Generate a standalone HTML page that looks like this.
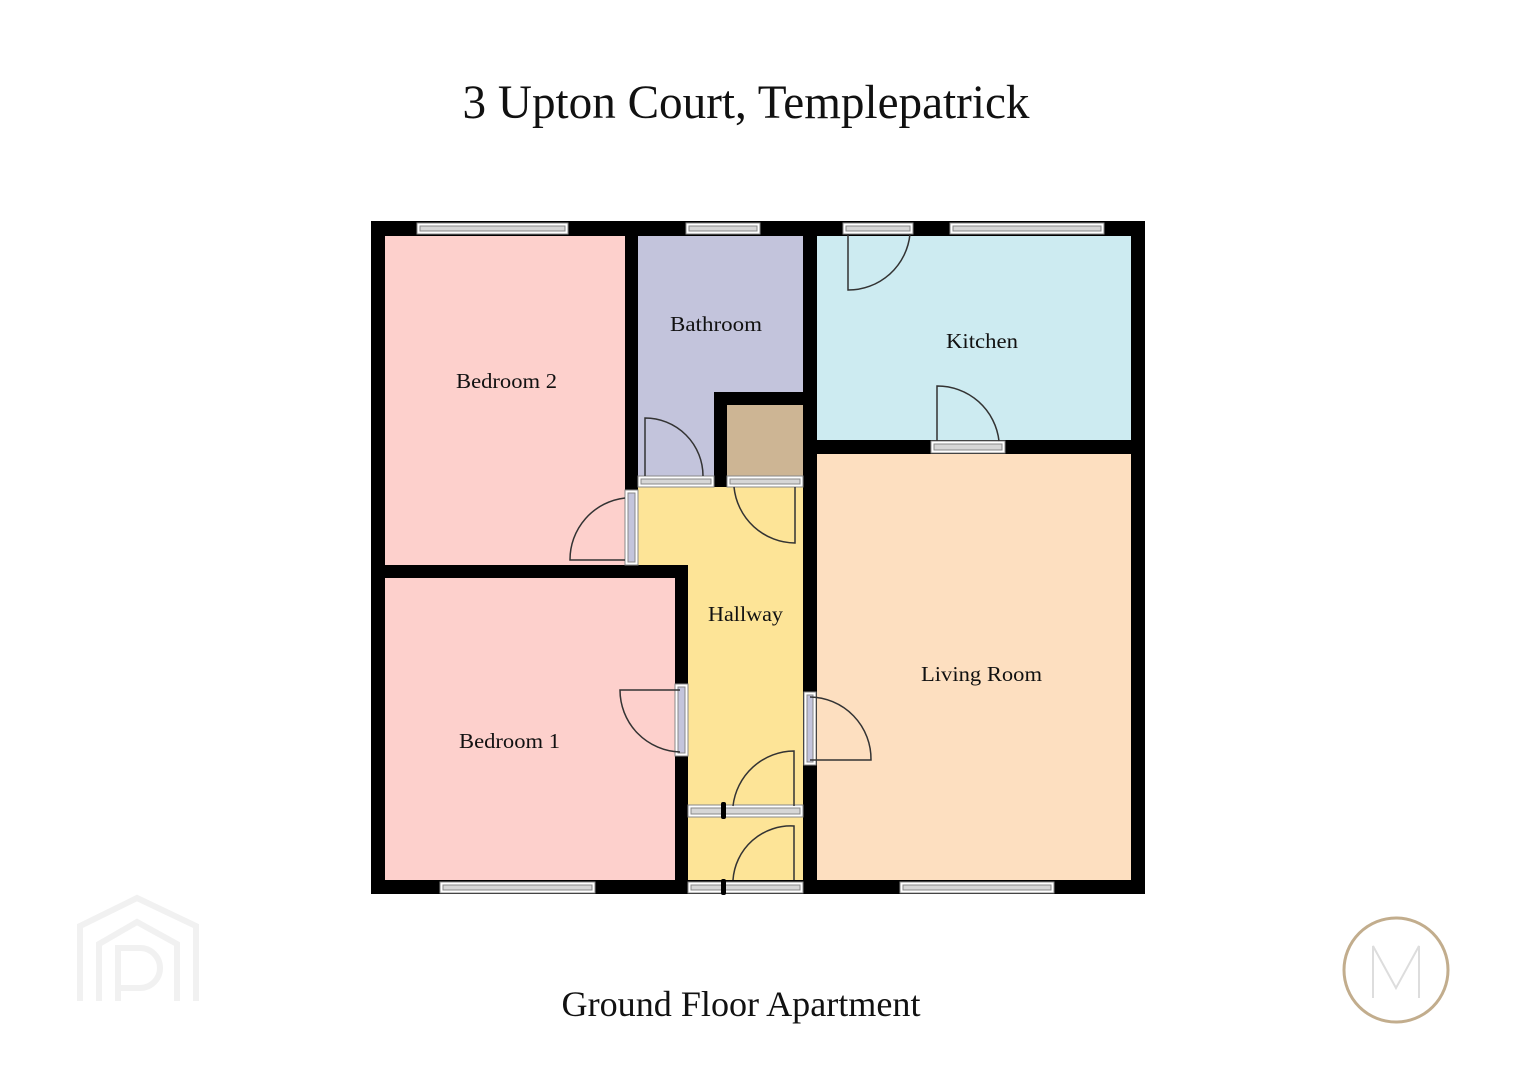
<!DOCTYPE html>
<html><head><meta charset="utf-8"><style>
html,body{margin:0;padding:0;background:#fff;}
svg{display:block}
text{font-family:"Liberation Serif",serif;fill:#111;}
</style></head><body>
<svg width="1526" height="1080" viewBox="0 0 1526 1080" xmlns="http://www.w3.org/2000/svg">
<rect width="1526" height="1080" fill="#fff"/>
<text x="746" y="118" font-size="48" text-anchor="middle" textLength="567" lengthAdjust="spacingAndGlyphs">3 Upton Court, Templepatrick</text>
<text x="741" y="1016" font-size="36" text-anchor="middle" textLength="359" lengthAdjust="spacingAndGlyphs">Ground Floor Apartment</text>

<!-- room fills -->
<rect x="385" y="236" width="240" height="329" fill="#fdd0cc"/>
<rect x="638" y="236" width="165" height="251" fill="#c3c4dc"/>
<rect x="727" y="405" width="76" height="72" fill="#cdb594"/>
<rect x="817" y="236" width="314" height="204" fill="#cdebf1"/>
<rect x="817" y="454" width="314" height="426" fill="#fddfc0"/>
<rect x="638" y="487" width="165" height="393" fill="#fde497"/>
<rect x="385" y="578" width="290" height="302" fill="#fdd0cc"/>

<g fill="#000">
<!-- outer -->
<rect x="371" y="221" width="14" height="673"/>
<rect x="1131" y="221" width="14" height="673"/>
<rect x="371" y="221" width="774" height="15"/>
<rect x="371" y="880" width="774" height="14"/>
<!-- bed2/bath wall -->
<rect x="625" y="221" width="13" height="269"/>
<!-- bath/kitchen, hall/living wall -->
<rect x="803" y="221" width="14" height="673"/>
<!-- cupboard -->
<rect x="714" y="392" width="89" height="13"/>
<rect x="714" y="392" width="13" height="95"/>
<!-- bedroom1 top -->
<rect x="371" y="565" width="317" height="13"/>
<rect x="675" y="565" width="13" height="329"/>
<!-- kitchen bottom -->
<rect x="817" y="440" width="314" height="14"/>
</g>

<!-- windows / door openings -->
<g fill="#d6d6d6" stroke="#888" stroke-width="1">
<rect x="417" y="223" width="151" height="11" fill="#fff"/>
<rect x="420" y="226" width="145" height="5"/>
<rect x="686" y="223" width="74" height="11" fill="#fff"/>
<rect x="689" y="226" width="68" height="5"/>
<rect x="843" y="223" width="70" height="11" fill="#fff"/>
<rect x="846" y="226" width="64" height="5"/>
<rect x="950" y="223" width="154" height="11" fill="#fff"/>
<rect x="953" y="226" width="148" height="5"/>
<rect x="440" y="882" width="155" height="11" fill="#fff"/>
<rect x="443" y="885" width="149" height="5"/>
<rect x="900" y="882" width="154" height="11" fill="#fff"/>
<rect x="903" y="885" width="148" height="5"/>
<rect x="688" y="882" width="115" height="11" fill="#fff"/>
<rect x="691" y="885" width="109" height="5"/>
<rect x="688" y="805" width="115" height="12" fill="#fff"/>
<rect x="691" y="808" width="109" height="6"/>
<rect x="931" y="441" width="74" height="12" fill="#fff"/>
<rect x="934" y="444" width="68" height="6"/>
<rect x="638" y="476" width="76" height="11" fill="#fff"/>
<rect x="641" y="479" width="70" height="5"/>
<rect x="727" y="476" width="76" height="11" fill="#fff"/>
<rect x="730" y="479" width="70" height="5"/>
<rect x="625" y="490" width="13" height="75" fill="#fff"/>
<rect x="628" y="493" width="7" height="69" fill="#c3c4dc"/>
<rect x="675" y="684" width="13" height="72" fill="#fff"/>
<rect x="678" y="687" width="7" height="66" fill="#c3c4dc"/>
<rect x="804" y="692" width="12" height="73" fill="#fff"/>
<rect x="807" y="695" width="6" height="67" fill="#c3c4dc"/>
</g>
<g fill="#000">
<rect x="721" y="802" width="5" height="17" rx="2"/>
<rect x="721" y="879" width="5" height="16" rx="2"/>
</g>

<!-- door swings -->
<g fill="none" stroke="#333" stroke-width="1.5">
<path d="M848 234 V290 A62 62 0 0 0 910 234"/>
<path d="M937 441 V386 A62 62 0 0 1 999 441"/>
<path d="M645 476 V418 A58 58 0 0 1 703 476"/>
<path d="M795 487 V543 A62 62 0 0 1 734 487"/>
<path d="M625 495 H597 A28 28 0 0 0 570 560 H625" stroke-width="0"/>
<path d="M625 498 A62 62 0 0 0 570 560 H625"/>
<path d="M680 690 H620 A62 62 0 0 0 680 752"/>
<path d="M810 697 A62 62 0 0 1 871 760 H810"/>
<path d="M794 806 V751 A62 62 0 0 0 733 806"/>
<path d="M794 880 V826 A58 58 0 0 0 733 880"/>
</g>

<!-- labels -->
<g font-size="21">
<text x="456" y="388" textLength="101" lengthAdjust="spacingAndGlyphs">Bedroom 2</text>
<text x="670" y="331" textLength="92" lengthAdjust="spacingAndGlyphs">Bathroom</text>
<text x="946" y="348" textLength="72" lengthAdjust="spacingAndGlyphs">Kitchen</text>
<text x="708" y="621" textLength="75" lengthAdjust="spacingAndGlyphs">Hallway</text>
<text x="921" y="681" textLength="121" lengthAdjust="spacingAndGlyphs">Living Room</text>
<text x="459" y="748" textLength="101" lengthAdjust="spacingAndGlyphs">Bedroom 1</text>
</g>

<!-- watermark PP logo -->
<g fill="none" stroke="#f1f1f1" stroke-width="6">
<path d="M80 1001 V926 L137 898 L196 926 V1001"/>
<path d="M99 1001 V944 L137 922 L177 944 V1001"/>
<path d="M118 1001 V948 H140 A20 20 0 0 1 140 988 H118"/>
</g>
<!-- M logo -->
<circle cx="1396" cy="970" r="52" fill="#fff" stroke="#c2ad8d" stroke-width="3"/>
<path d="M1373 998 V946 L1396 988 L1419 946 V998" fill="none" stroke="#ddd" stroke-width="2"/>
</svg>
</body></html>
